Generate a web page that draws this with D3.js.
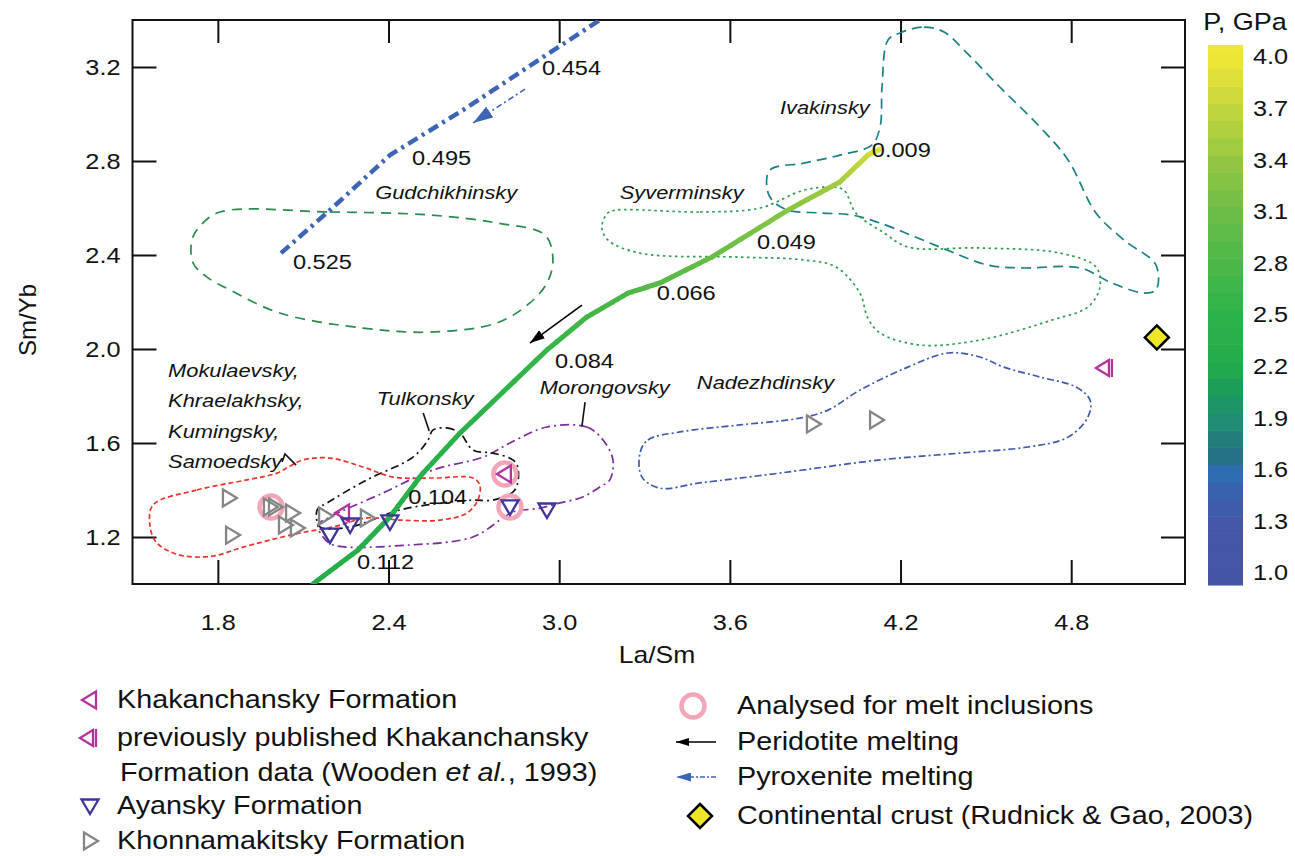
<!DOCTYPE html>
<html>
<head>
<meta charset="utf-8">
<script src="https://cdn.jsdelivr.net/npm/d3@7"></script>
<style>
body { margin: 0; background: #fff; }
svg text { font-family: "Liberation Sans", Arial, Helvetica, sans-serif; fill: #111; }
</style>
</head>
<body>
<div id="chart"></div>
<script>
const WIDTH = 1295, HEIGHT = 856;
const STRETCH = 1.15;

const X_DOMAIN = [1.5, 5.2];
const Y_DOMAIN = [1.0, 3.4];
const X_TICKS = [1.8, 2.4, 3.0, 3.6, 4.2, 4.8];
const Y_TICKS = [1.2, 1.6, 2.0, 2.4, 2.8, 3.2];
const P_TICKS = [1.0, 1.3, 1.6, 1.9, 2.2, 2.5, 2.8, 3.1, 3.4, 3.7, 4.0];
const P_STOPS = [1.0, 1.3, 1.45, 1.58, 1.7, 1.9, 2.05, 2.2, 2.5, 2.8, 3.1, 3.4, 3.7, 4.0];
const P_COLORS = ['#4654a6', '#4457a8', '#3b5fad', '#2d6db4', '#24737f', '#1f8f72', '#1c9a5e',
  '#22ab4b', '#2db24a', '#4bb848', '#6cbe46', '#95c742', '#c2d63d', '#f0e736'];

// peridotite melting curve [La/Sm, Sm/Yb, P]
const peridotite = [
  [2.134, 1.000, 2.30], [2.293, 1.145, 2.32], [2.405, 1.285, 2.35], [2.521, 1.472, 2.40],
  [2.651, 1.642, 2.45], [2.957, 1.996, 2.60], [3.097, 2.136, 2.70], [3.242, 2.238, 2.80],
  [3.354, 2.281, 2.90], [3.537, 2.391, 3.05], [3.804, 2.591, 3.30], [3.987, 2.711, 3.50],
  [4.085, 2.825, 3.75], [4.128, 2.851, 3.95]
];
const peridotiteF = [
  ['0.009', 4.099, 2.847], ['0.049', 3.695, 2.455], ['0.066', 3.343, 2.238],
  ['0.084', 2.985, 1.949], ['0.104', 2.469, 1.370], ['0.112', 2.289, 1.094]
];
const peridotiteArrow = [[3.080, 2.187], [2.897, 2.025]];

// pyroxenite melting curve
const pyroxenite = [
  [2.022, 2.408], [2.194, 2.591], [2.405, 2.825], [2.662, 3.017], [2.943, 3.242], [3.143, 3.400]
];
const pyroxeniteF = [['0.525', 2.064, 2.370], ['0.495', 2.483, 2.813], ['0.454', 2.940, 3.196]];
const pyroxeniteArrow = [[2.880, 3.106], [2.697, 2.962]];

// suite fields
const gudchikhinskyField = [
  [1.808, 2.583], [2.194, 2.583], [2.546, 2.570], [2.781, 2.536], [2.950, 2.485], [2.978, 2.379],
  [2.957, 2.281], [2.897, 2.196], [2.781, 2.111], [2.546, 2.072], [2.310, 2.089], [2.018, 2.153],
  [1.843, 2.251], [1.762, 2.306], [1.713, 2.366], [1.709, 2.464], [1.737, 2.523]
];
const ivakinskyField = [
  [4.198, 3.345], [4.282, 3.370], [4.353, 3.349], [4.423, 3.272], [4.549, 3.115], [4.690, 2.945],
  [4.789, 2.804], [4.887, 2.579], [4.985, 2.464], [5.098, 2.357], [5.098, 2.251], [5.056, 2.238],
  [4.943, 2.281], [4.831, 2.345], [4.620, 2.345], [4.507, 2.357], [4.338, 2.434], [4.128, 2.536],
  [4.029, 2.570], [3.917, 2.579], [3.804, 2.591], [3.748, 2.634], [3.730, 2.689], [3.741, 2.762],
  [3.860, 2.791], [3.987, 2.825], [4.099, 2.868], [4.128, 2.945], [4.135, 3.115], [4.156, 3.315]
];
const syverminskyField = [
  [3.200, 2.591], [3.495, 2.583], [3.706, 2.600], [3.860, 2.676], [3.959, 2.689], [4.001, 2.676],
  [4.043, 2.579], [4.142, 2.494], [4.226, 2.434], [4.479, 2.430], [4.761, 2.408], [4.887, 2.349],
  [4.901, 2.264], [4.859, 2.179], [4.732, 2.123], [4.479, 2.038], [4.268, 2.017], [4.128, 2.068],
  [4.085, 2.132], [4.057, 2.238], [3.973, 2.349], [3.860, 2.379], [3.635, 2.391], [3.284, 2.408],
  [3.171, 2.464], [3.150, 2.519], [3.171, 2.579]
];
const nadezhdinskyField = [
  [3.284, 1.557], [3.312, 1.613], [3.424, 1.647], [3.635, 1.677], [3.846, 1.706], [3.945, 1.740],
  [4.057, 1.825], [4.226, 1.923], [4.367, 1.983], [4.479, 1.966], [4.563, 1.923], [4.690, 1.881],
  [4.817, 1.838], [4.866, 1.783], [4.859, 1.711], [4.789, 1.625], [4.648, 1.583], [4.409, 1.557],
  [4.128, 1.528], [3.776, 1.472], [3.495, 1.430], [3.354, 1.408], [3.291, 1.455]
];
const morongovskyField = [
  [2.957, 1.668], [3.097, 1.668], [3.154, 1.613], [3.189, 1.528], [3.178, 1.443], [3.143, 1.413],
  [3.083, 1.370], [3.003, 1.345], [2.932, 1.323], [2.837, 1.306], [2.792, 1.272], [2.697, 1.200],
  [2.475, 1.166], [2.205, 1.166], [2.170, 1.200], [2.152, 1.251], [2.194, 1.285], [2.380, 1.387],
  [2.556, 1.485], [2.732, 1.540], [2.827, 1.600]
];
const tulkonskyField = [
  [2.556, 1.655], [2.605, 1.664], [2.651, 1.642], [2.697, 1.570], [2.767, 1.557], [2.837, 1.528],
  [2.855, 1.494], [2.844, 1.400], [2.767, 1.357], [2.697, 1.357], [2.592, 1.345], [2.440, 1.315],
  [2.265, 1.243], [2.159, 1.243], [2.149, 1.315], [2.184, 1.345], [2.324, 1.443], [2.486, 1.540],
  [2.539, 1.613]
];
const mokulaevskyField = [
  [1.572, 1.336], [1.727, 1.400], [1.902, 1.443], [2.008, 1.472], [2.054, 1.502], [2.099, 1.528],
  [2.194, 1.536], [2.310, 1.498], [2.416, 1.455], [2.556, 1.451], [2.697, 1.451], [2.721, 1.421],
  [2.714, 1.357], [2.676, 1.302], [2.581, 1.272], [2.440, 1.272], [2.324, 1.281], [2.205, 1.243],
  [2.089, 1.217], [1.983, 1.187], [1.878, 1.153], [1.783, 1.119], [1.667, 1.123], [1.586, 1.174],
  [1.562, 1.243]
];

const fieldLabels = [
  ['Gudchikhinsky', 2.353, 2.668], ['Ivakinsky', 3.776, 3.030], ['Syverminsky', 3.213, 2.668],
  ['Nadezhdinsky', 3.484, 1.860], ['Morongovsky', 2.932, 1.838], ['Tulkonsky', 2.359, 1.791],
  ['Mokulaevsky,', 1.625, 1.911], ['Khraelakhsky,', 1.625, 1.783], ['Kumingsky,', 1.625, 1.651],
  ['Samoedsky', 1.625, 1.523]
];
const leaders = [
  [[2.522, 1.728], [2.543, 1.651]],
  [[3.091, 1.774], [3.080, 1.672]],
  [[2.026, 1.519], [2.036, 1.553], [2.075, 1.506]]
];

// samples [La/Sm, Sm/Yb]
const khonnamakitsky = [
  [1.839, 1.366], [1.850, 1.208], [1.983, 1.328], [2.001, 1.328], [2.061, 1.302], [2.036, 1.251],
  [2.078, 1.238], [2.177, 1.289], [2.324, 1.281], [3.892, 1.681], [4.114, 1.698]
];
const khakanchansky = [[2.240, 1.302], [2.809, 1.468]];
const khakanchanskyPrev = [[4.915, 1.919]];
const ayansky = [[2.194, 1.208], [2.265, 1.251], [2.405, 1.264], [2.827, 1.328], [2.957, 1.315]];
const meltInclusions = [[1.987, 1.328], [2.809, 1.468], [2.827, 1.328]];
const continentalCrust = [[5.101, 2.049]];

const fieldStyles = [
  { data: gudchikhinskyField, color: '#2a8a4c', dash: '10,7' },
  { data: ivakinskyField, color: '#1b7f86', dash: '10,6' },
  { data: syverminskyField, color: '#2e9a52', dash: '2.5,3.5' },
  { data: nadezhdinskyField, color: '#3e59aa', dash: '7,3,2,3' },
  { data: morongovskyField, color: '#7b2d97', dash: '9,4,2,4' },
  { data: tulkonskyField, color: '#111111', dash: '8,4,2,4' },
  { data: mokulaevskyField, color: '#e8342c', dash: '5,3' }
];

const COL_GRAY = '#858585', COL_MAGENTA = '#b4329c', COL_NAVY = '#3d3599',
  COL_PINK = '#f4a6b9', COL_BLUE = '#3d64b5';

document.addEventListener('DOMContentLoaded', function() {
  draw();
});

function txt(parent, px, py, str, size, opts)
{
  opts = opts || {};
  var t = parent.append('text')
    .attr('transform', 'translate(' + px + ',' + py + ') scale(' + STRETCH + ',1)')
    .attr('font-size', size)
    .attr('dominant-baseline', 'central')
    .attr('text-anchor', opts.anchor || 'start')
    .attr('font-style', opts.italic ? 'italic' : 'normal');
  if (str !== null) t.text(str);
  return t;
}

function marker(g, type, cx, cy)
{
  var s = g.append('g').attr('transform', 'translate(' + cx + ',' + cy + ')');
  if (type == 'right') {
    s.append('path').attr('d', 'M-6,-8.5L8,0L-6,8.5Z')
      .attr('fill', 'none').attr('stroke', COL_GRAY).attr('stroke-width', 2.3);
  } else if (type == 'left') {
    s.append('path').attr('d', 'M6,-8.5L-8,0L6,8.5Z')
      .attr('fill', 'none').attr('stroke', COL_MAGENTA).attr('stroke-width', 2.3);
  } else if (type == 'leftbar') {
    s.append('path').attr('d', 'M5,-8L-8,0L5,8Z')
      .attr('fill', 'none').attr('stroke', COL_MAGENTA).attr('stroke-width', 2.3);
    s.append('line').attr('x1', 8).attr('x2', 8).attr('y1', -9).attr('y2', 9)
      .attr('stroke', COL_MAGENTA).attr('stroke-width', 2.3);
  } else if (type == 'down') {
    s.append('path').attr('d', 'M-8.5,-6.5L8.5,-6.5L0,8Z')
      .attr('fill', 'none').attr('stroke', COL_NAVY).attr('stroke-width', 2.3);
  } else if (type == 'circle') {
    s.append('circle').attr('r', 11.5)
      .attr('fill', 'none').attr('stroke', COL_PINK).attr('stroke-width', 4.5);
  } else if (type == 'diamond') {
    s.append('path').attr('d', 'M0,-12L12,0L0,12L-12,0Z')
      .attr('fill', '#f0e628').attr('stroke', '#000').attr('stroke-width', 2.5);
  }
}

function draw()
{
  var svg = d3.select('#chart').append('svg')
    .attr('width', WIDTH).attr('height', HEIGHT);

  var x = d3.scaleLinear().domain(X_DOMAIN).range([132.5, 1185]);
  var y = d3.scaleLinear().domain(Y_DOMAIN).range([584, 20]);
  var pColor = d3.scaleLinear().domain(P_STOPS).range(P_COLORS).clamp(true);

  var defs = svg.append('defs');
  defs.append('clipPath').attr('id', 'plotclip')
    .append('rect').attr('x', 132.5).attr('y', 20).attr('width', 1052.5).attr('height', 564);
  function arrowHead(id, color, len, wid) {
    defs.append('marker').attr('id', id)
      .attr('markerUnits', 'userSpaceOnUse')
      .attr('viewBox', '0 0 ' + len + ' ' + wid)
      .attr('refX', len).attr('refY', wid / 2)
      .attr('markerWidth', len).attr('markerHeight', wid)
      .attr('orient', 'auto')
      .append('path').attr('d', 'M0,0L' + len + ',' + (wid / 2) + 'L0,' + wid + 'Z')
      .attr('fill', color);
  }
  arrowHead('ahBlack', '#000', 15, 10);
  arrowHead('ahBlue', COL_BLUE, 20, 13);
  arrowHead('ahBlackS', '#000', 13, 8);
  arrowHead('ahBlueS', COL_BLUE, 15, 9);

  // axes
  var xAxis = svg.append('g').attr('transform', 'translate(0,584)')
    .call(d3.axisBottom(x).tickValues(X_TICKS).tickFormat(d3.format('.1f'))
      .tickSizeInner(-24).tickSizeOuter(0).tickPadding(30));
  xAxis.selectAll('text').attr('font-size', 22).attr('fill', '#111')
    .attr('transform', 'scale(' + STRETCH + ',1)');
  var yAxis = svg.append('g').attr('transform', 'translate(132.5,0)')
    .call(d3.axisLeft(y).tickValues(Y_TICKS).tickFormat(d3.format('.1f'))
      .tickSizeInner(-24).tickSizeOuter(0).tickPadding(12));
  yAxis.selectAll('text').attr('font-size', 22).attr('fill', '#111')
    .attr('x', -12 / STRETCH).attr('transform', 'scale(' + STRETCH + ',1)');
  svg.append('g').attr('transform', 'translate(0,20)')
    .call(d3.axisTop(x).tickValues(X_TICKS).tickFormat('').tickSizeInner(-23).tickSizeOuter(0));
  svg.append('g').attr('transform', 'translate(1185,0)')
    .call(d3.axisRight(y).tickValues(Y_TICKS).tickFormat('').tickSizeInner(-24).tickSizeOuter(0));
  svg.selectAll('.domain').remove();
  svg.selectAll('.tick line').attr('stroke', '#111').attr('stroke-width', 2);
  svg.append('rect').attr('x', 132.5).attr('y', 20).attr('width', 1052.5).attr('height', 564)
    .attr('fill', 'none').attr('stroke', '#111').attr('stroke-width', 2);

  txt(svg, 657, 655, 'La/Sm', 23, { anchor: 'middle' });
  svg.append('text').attr('transform', 'translate(27,320) rotate(-90)')
    .attr('text-anchor', 'middle').attr('dominant-baseline', 'central')
    .attr('font-size', 24).text('Sm/Yb');

  var plot = svg.append('g').attr('clip-path', 'url(#plotclip)');

  // fields
  var fieldLine = d3.line().x(function(d) { return x(d[0]); }).y(function(d) { return y(d[1]); })
    .curve(d3.curveCatmullRomClosed.alpha(0.5));
  fieldStyles.forEach(function(f) {
    plot.append('path').attr('d', fieldLine(f.data))
      .attr('fill', 'none').attr('stroke', f.color).attr('stroke-width', 1.7)
      .attr('stroke-dasharray', f.dash);
  });
  var openLine = d3.line().x(function(d) { return x(d[0]); }).y(function(d) { return y(d[1]); });
  leaders.forEach(function(l) {
    plot.append('path').attr('d', openLine(l)).attr('fill', 'none')
      .attr('stroke', '#111').attr('stroke-width', 1.6);
  });
  fieldLabels.forEach(function(l) {
    txt(plot, x(l[1]), y(l[2]), l[0], 19, { italic: true });
  });

  // pyroxenite
  plot.append('path').attr('d', openLine(pyroxenite))
    .attr('fill', 'none').attr('stroke', COL_BLUE).attr('stroke-width', 4.5)
    .attr('stroke-dasharray', '11,5,3,5');
  plot.append('path').attr('d', openLine(pyroxeniteArrow))
    .attr('fill', 'none').attr('stroke', COL_BLUE).attr('stroke-width', 1.6)
    .attr('stroke-dasharray', '6,3,2,3').attr('marker-end', 'url(#ahBlue)');
  pyroxeniteF.forEach(function(l) { txt(plot, x(l[1]), y(l[2]), l[0], 20.5); });

  // peridotite, coloured by pressure
  for (var i = 0; i < peridotite.length - 1; i++) {
    var a = peridotite[i], b = peridotite[i + 1];
    var n = 8;
    for (var k = 0; k < n; k++) {
      var t0 = k / n, t1 = (k + 1) / n;
      plot.append('line')
        .attr('x1', x(a[0] + (b[0] - a[0]) * t0)).attr('y1', y(a[1] + (b[1] - a[1]) * t0))
        .attr('x2', x(a[0] + (b[0] - a[0]) * t1)).attr('y2', y(a[1] + (b[1] - a[1]) * t1))
        .attr('stroke', pColor(a[2] + (b[2] - a[2]) * (t0 + t1) / 2))
        .attr('stroke-width', 5).attr('stroke-linecap', 'round');
    }
  }
  plot.append('path').attr('d', openLine(peridotiteArrow))
    .attr('fill', 'none').attr('stroke', '#000').attr('stroke-width', 1.6)
    .attr('marker-end', 'url(#ahBlack)');
  peridotiteF.forEach(function(l) { txt(plot, x(l[1]), y(l[2]), l[0], 20.5); });

  // samples
  meltInclusions.forEach(function(d) { marker(plot, 'circle', x(d[0]), y(d[1])); });
  khonnamakitsky.forEach(function(d) { marker(plot, 'right', x(d[0]), y(d[1])); });
  khakanchansky.forEach(function(d) { marker(plot, 'left', x(d[0]), y(d[1])); });
  khakanchanskyPrev.forEach(function(d) { marker(plot, 'leftbar', x(d[0]), y(d[1])); });
  ayansky.forEach(function(d) { marker(plot, 'down', x(d[0]), y(d[1])); });
  continentalCrust.forEach(function(d) { marker(svg, 'diamond', x(d[0]), y(d[1])); });

  // colour bar
  var cbY = d3.scaleLinear().domain([1.0, 4.0]).range([573, 57]);
  var bands = d3.range(0.93, 4.07, 0.1);
  svg.append('g').selectAll('rect').data(bands).enter().append('rect')
    .attr('x', 1208).attr('width', 35)
    .attr('y', function(d) { return cbY(Math.min(d + 0.1, 4.07)); })
    .attr('height', function(d) { return cbY(d) - cbY(Math.min(d + 0.1, 4.07)) + 0.5; })
    .attr('fill', function(d) { return pColor(d + 0.05); });
  P_TICKS.forEach(function(p) { txt(svg, 1253, cbY(p), p.toFixed(1), 22); });
  txt(svg, 1245, 22, 'P, GPa', 23.5, { anchor: 'middle' });

  // legend
  var lg = svg.append('g');
  marker(lg, 'left', 90, 700);
  txt(lg, 117, 700, 'Khakanchansky Formation', 25);
  marker(lg, 'leftbar', 88, 738);
  txt(lg, 117, 738, 'previously published Khakanchansky', 25);
  var t = txt(lg, 120, 773, null, 25);
  t.append('tspan').text('Formation data (Wooden ');
  t.append('tspan').attr('font-style', 'italic').text('et al.');
  t.append('tspan').text(', 1993)');
  marker(lg, 'down', 90, 806);
  txt(lg, 117, 806, 'Ayansky Formation', 25);
  marker(lg, 'right', 90, 841);
  txt(lg, 117, 841, 'Khonnamakitsky Formation', 25);

  marker(lg, 'circle', 693, 706);
  txt(lg, 737, 706, 'Analysed for melt inclusions', 25);
  lg.append('line').attr('x1', 716).attr('x2', 676).attr('y1', 742).attr('y2', 742)
    .attr('stroke', '#000').attr('stroke-width', 1.6).attr('marker-end', 'url(#ahBlackS)');
  txt(lg, 737, 742, 'Peridotite melting', 25);
  lg.append('line').attr('x1', 716).attr('x2', 676).attr('y1', 777).attr('y2', 777)
    .attr('stroke', COL_BLUE).attr('stroke-width', 1.6).attr('stroke-dasharray', '5,2,2,2')
    .attr('marker-end', 'url(#ahBlueS)');
  txt(lg, 737, 777, 'Pyroxenite melting', 25);
  marker(lg, 'diamond', 700, 816);
  txt(lg, 737, 816, 'Continental crust (Rudnick & Gao, 2003)', 25);
}
</script>
</body>
</html>
